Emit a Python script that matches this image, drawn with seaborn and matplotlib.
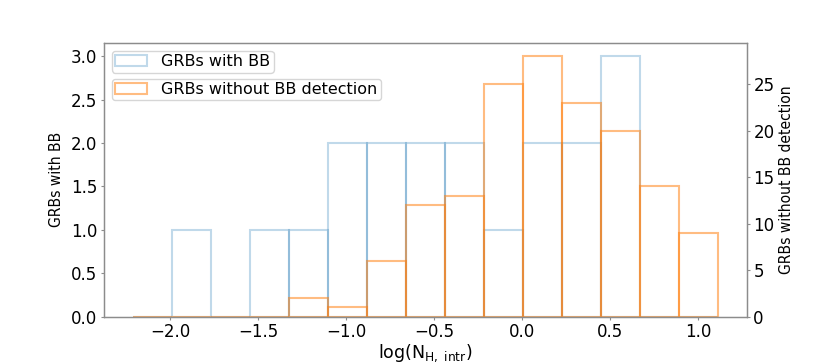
import numpy as np
import pandas as pd
import matplotlib
matplotlib.use("Agg")
import matplotlib.pyplot as plt
import seaborn as sns

# Bin range of log(N_H,intr) histogram (15 bins)
bin_lo, bin_hi, n_bins = -2.21, 1.11, 15

# Counts per bin
counts_bb = [0, 1, 0, 1, 1, 2, 2, 2, 2, 1, 2, 2, 3, 0, 0]
counts_nobb = [0, 0, 0, 0, 2, 1, 6, 12, 13, 25, 28, 23, 20, 14, 9]

label_bb = "GRBs with BB"
label_nobb = "GRBs without BB detection"
xlabel = r"log(N$_{\mathrm{H,\ intr}}$)"

edges = np.linspace(bin_lo, bin_hi, n_bins + 1)
centers = (edges[:-1] + edges[1:]) / 2
bin_list = [float(e) for e in edges]
df = pd.DataFrame({"center": centers, "bb": counts_bb, "nobb": counts_nobb})

plt.rcParams["font.family"] = ["DejaVu Sans"]
fig = plt.figure(figsize=(8.3, 3.63), dpi=100)
ax1 = fig.add_axes([0.125, 0.128, 0.775, 0.753])

sns.histplot(data=df, x="center", weights="bb", bins=bin_list, element="bars",
             fill=False, color="#1f77b4", alpha=0.28, linewidth=1.5,
             label=label_bb, ax=ax1)
ax2 = ax1.twinx()
sns.histplot(data=df, x="center", weights="nobb", bins=bin_list, element="bars",
             fill=False, color="#ff7f0e", alpha=0.52, linewidth=1.5,
             label=label_nobb, ax=ax2)

ylab_font = dict(family=["DejaVu Sans"], fontstretch="condensed", fontsize=11.2)
ax1.set_ylabel(label_bb, labelpad=5, **ylab_font)
ax2.set_ylabel(label_nobb, labelpad=3, **ylab_font)
ax1.set_xlabel(xlabel, fontsize=12.5, labelpad=1)

ax1.set_yticks(np.arange(0, 3.01, 0.5))
ax2.set_yticks(np.arange(0, 26, 5))
ax1.set_xticks([-2.0, -1.5, -1.0, -0.5, 0.0, 0.5, 1.0])

for ax in (ax1, ax2):
    for s in ax.spines.values():
        s.set_color("0.55")
        s.set_linewidth(0.9)
    ax.tick_params(axis="both", labelsize=12, length=2.5, width=0.8,
                   color="0.55", pad=2)

ax1.legend(loc="upper left", fontsize=11.5, borderpad=0.2,
           handlelength=2.0, handletextpad=0.9)
ax2.legend(loc="upper left", fontsize=11.5, borderpad=0.2,
           handlelength=2.0, handletextpad=0.9, bbox_to_anchor=(0.0, 0.9))

fig.savefig("out.png", dpi=100)
